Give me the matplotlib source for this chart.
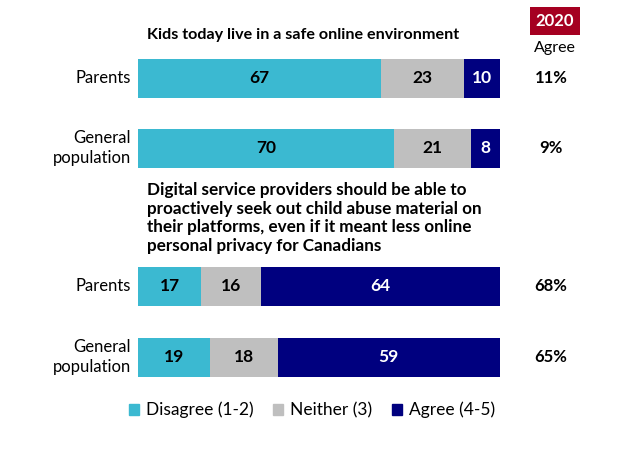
import matplotlib
matplotlib.use("Agg")
import matplotlib.pyplot as plt
from matplotlib.patches import Patch

plt.rcParams['font.family'] = ['Lato', 'DejaVu Sans']

groups = ['Parents', 'General\npopulation', 'Parents', 'General\npopulation']
disagree = [67, 70, 17, 19]
neither = [23, 21, 16, 18]
agree = [10, 8, 64, 59]
agree_2020 = ['11%', '9%', '68%', '65%']
series_names = ['Disagree (1-2)', 'Neither (3)', 'Agree (4-5)']
colors = ['#3BB9D1', '#BFBFBF', '#00007F']
title1 = 'Kids today live in a safe online environment'
title2 = ('Digital service providers should be able to\n'
          'proactively seek out child abuse material on\n'
          'their platforms, even if it meant less online\n'
          'personal privacy for Canadians')

W, H = 624, 468
fig = plt.figure(figsize=(W / 100, H / 100), dpi=100)
ax = fig.add_axes([138 / W, 0, 362 / W, 1])
ax.set_xlim(0, 100)
ax.set_ylim(H, 0)
ax.axis('off')

ypos = [78, 148, 286, 357]
bh = 39

# 100% stacked: scale each row to its total
totals = [d + n + a for d, n, a in zip(disagree, neither, agree)]
left = [0] * 4
for vals, col, name in zip([disagree, neither, agree], colors, series_names):
    widths = [v / t * 100 for v, t in zip(vals, totals)]
    bars = ax.barh(ypos, widths, left=left, height=bh, color=col, label=name)
    tc = 'white' if col == '#00007F' else 'black'
    for b, v in zip(bars, vals):
        ax.text(b.get_x() + b.get_width() / 2, b.get_y() + b.get_height() / 2, str(v),
                ha='center', va='center', fontsize=12.5, fontweight='bold', color=tc)
    left = [l + w for l, w in zip(left, widths)]

def fx(px):
    return px / W

def fy(py):
    return 1 - py / H

for g, y in zip(groups, ypos):
    fig.text(fx(131), fy(y), g, ha='right', va='center', fontsize=12, linespacing=1.25)

for p, y in zip(agree_2020, ypos):
    fig.text(fx(551), fy(y), p, ha='center', va='center', fontsize=12, fontweight='bold')

fig.text(fx(147), fy(35), title1, ha='left', va='center', fontsize=11.6, fontweight='bold')
fig.text(fx(147), fy(218), title2, ha='left', va='center', fontsize=12.3, fontweight='bold',
         linespacing=1.22)

fig.text(fx(555), fy(21), '2020', ha='center', va='center', fontsize=12, fontweight='bold',
         color='white', bbox=dict(boxstyle='square,pad=0.35', fc='#A50021', ec='none'))
fig.text(fx(555), fy(48), 'Agree', ha='center', va='center', fontsize=11.5)

handles = [Patch(color=c) for c in colors]
fig.legend(handles, series_names, loc='center', bbox_to_anchor=(fx(312), fy(410)),
           ncol=3, frameon=False, fontsize=12.5, handlelength=0.6, handleheight=0.6,
           handletextpad=0.4, columnspacing=1.1)

fig.savefig('out.png', dpi=100)
